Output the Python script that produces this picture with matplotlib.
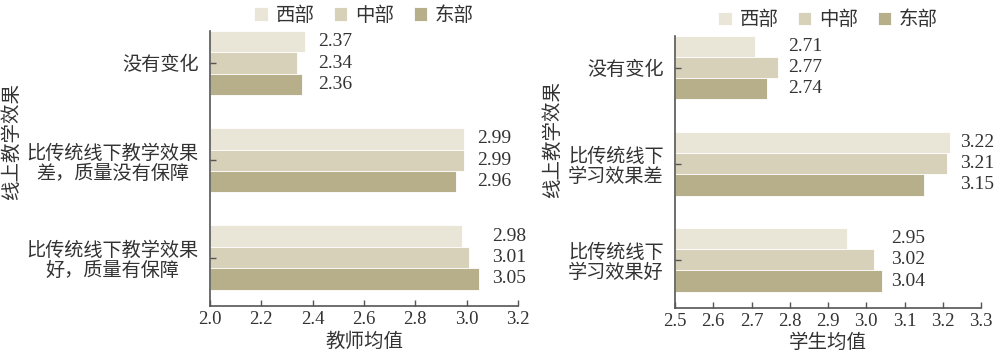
import matplotlib
matplotlib.use("Agg")
import matplotlib.pyplot as plt
import numpy as np

plt.rcParams["font.family"] = ["Liberation Serif", "Noto Sans CJK SC"]

regions = ["西部", "中部", "东部"]
colors = ["#e9e6d7", "#d6d1b8", "#b7af8a"]

teacher_cats = ["没有变化", "比传统线下教学效果\n差，质量没有保障", "比传统线下教学效果\n好，质量有保障"]
teacher_vals = {
    "西部": [2.37, 2.99, 2.98],
    "中部": [2.34, 2.99, 3.01],
    "东部": [2.36, 2.96, 3.05],
}
teacher_ticks = [2.0, 2.2, 2.4, 2.6, 2.8, 3.0, 3.2]

student_cats = ["没有变化", "比传统线下\n学习效果差", "比传统线下\n学习效果好"]
student_vals = {
    "西部": [2.71, 3.22, 2.95],
    "中部": [2.77, 3.21, 3.02],
    "东部": [2.74, 3.15, 3.04],
}
student_ticks = [2.5, 2.6, 2.7, 2.8, 2.9, 3.0, 3.1, 3.2, 3.3]

fig = plt.figure(figsize=(10, 3.61), dpi=100)
ax1 = fig.add_axes([0.21, 0.152, 0.308, 0.762])
ax2 = fig.add_axes([0.675, 0.147, 0.306, 0.753])

gray = "#555555"
txt = "#333333"
bh = 0.22


def draw(ax, cats, vals, ticks, xlabel, pad):
    y = np.arange(len(cats))
    lo = ticks[0]
    handles = []
    for i, r in enumerate(regions):
        v = np.array(vals[r])
        b = ax.barh(y + (i - 1) * bh, v - lo, left=lo, height=bh,
                    color=colors[i], edgecolor="white", linewidth=0.6, label=r)
        handles.append(b)
    # labels aligned per group, right of the longest bar
    for g in range(len(cats)):
        gmax = max(vals[r][g] for r in regions)
        for i, r in enumerate(regions):
            ax.text(gmax + pad, y[g] + (i - 1) * bh, f"{vals[r][g]:.2f}",
                    va="center", ha="left", fontsize=14, color=txt)
    ax.set_xlim(ticks[0], ticks[-1])
    ax.set_xticks(ticks)
    ax.set_xticklabels([f"{t:.1f}" for t in ticks], fontsize=13.5, color=txt)
    ax.set_ylim(2.5, -0.33)
    ax.set_yticks(y)
    ax.set_yticklabels(cats, fontsize=13.8, color=txt, multialignment="center",
                       linespacing=1.15)
    ax.tick_params(direction="in", color=gray, length=4, width=1)
    ax.tick_params(axis="y", pad=8)
    for s in ["top", "right"]:
        ax.spines[s].set_visible(False)
    for s in ["left", "bottom"]:
        ax.spines[s].set_color(gray)
        ax.spines[s].set_linewidth(1.2)
    ax.set_xlabel(xlabel, fontsize=14, color=txt, labelpad=3)
    ax.set_ylabel("线上教学效果", fontsize=14, color=txt)
    ax.legend(handles=handles, loc="lower center", bbox_to_anchor=(0.5, 0.96),
              ncol=3, frameon=False, fontsize=14, handlelength=0.7,
              handleheight=0.7, handletextpad=0.4, columnspacing=1.0,
              labelcolor=txt)


draw(ax1, teacher_cats, teacher_vals, teacher_ticks, "教师均值", 0.05)
draw(ax2, student_cats, student_vals, student_ticks, "学生均值", 0.025)

ax1.yaxis.set_label_coords(-0.615, 0.60)
ax2.yaxis.set_label_coords(-0.37, 0.62)

fig.savefig("out.png", dpi=100)
